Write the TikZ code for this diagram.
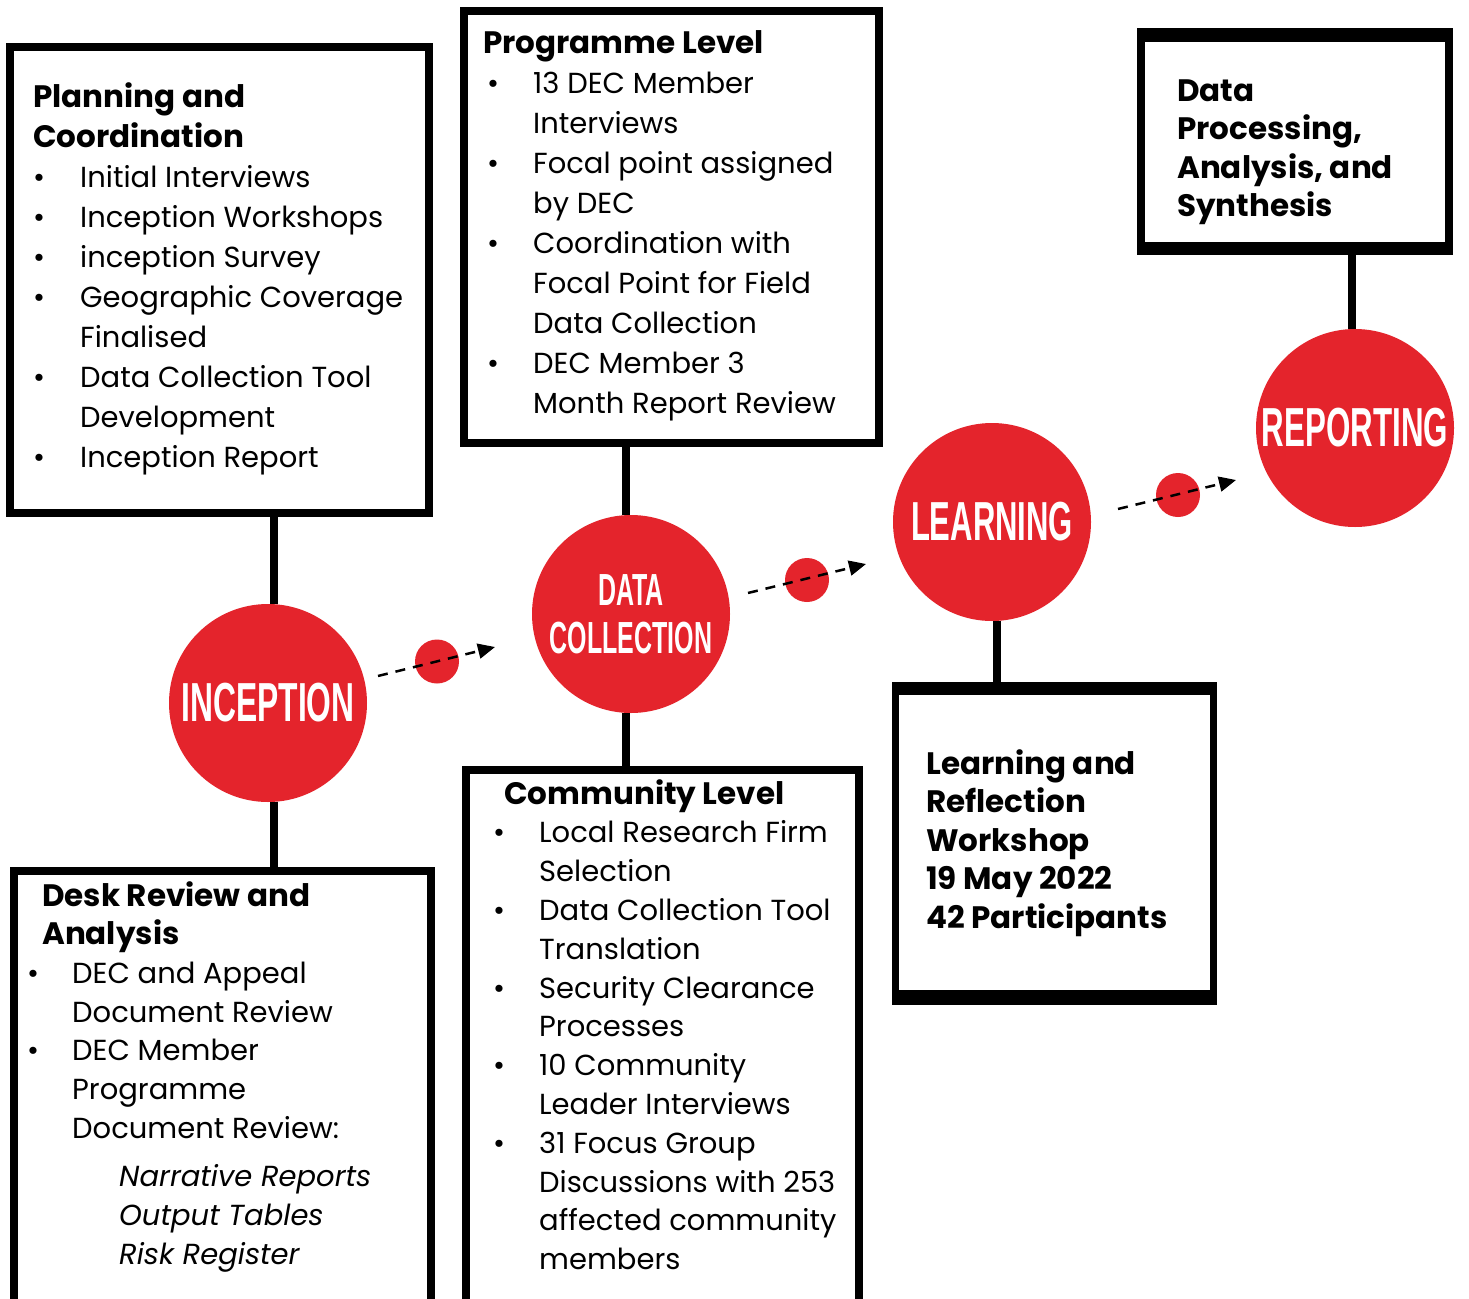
\documentclass[tikz,border=0pt]{standalone}
\usepackage{fontspec}
\setmainfont{Poppins}
\newfontfamily\circfont{Liberation Sans}
\usetikzlibrary{arrows.meta,calc}
\definecolor{decred}{RGB}{228,36,44}
\newcommand\hd[1]{\hbox{\bfseries\fontsize{31}{31}\selectfont #1}}
\newcommand\bl[3]{\hbox{\rlap{\kern#1pt\textbullet}\kern#2pt #3}}
\newcommand\cl[2]{\hbox{\kern#1pt #2}}
\newcommand\blk[2]{\vtop{\baselineskip=#1pt\lineskiplimit=-100pt\lineskip=0pt #2}}
\newcommand\cfit[2]{\scalebox{#1}[1]{#2}}
\tikzset{
  box/.style={draw=black, line width=8pt, fill=white, inner sep=0pt},
  txt/.style={anchor=base west, inner sep=0pt, font=\fontsize{29}{29}\selectfont},
  phase/.style={circle, fill=decred, inner sep=0pt, minimum size=198pt, text=white,
    font=\circfont\bfseries\fontsize{55}{55}\selectfont},
  dot/.style={circle, fill=decred, inner sep=0pt, minimum size=44pt},
  conn/.style={line width=8pt, black},
  flow/.style={line width=2.5pt, black, dash pattern=on 10pt off 8pt,
    -{Triangle[length=17pt,width=15pt]}}
}
\begin{document}
\begin{tikzpicture}[x=1pt,y=-1pt]
\useasboundingbox (0,0) rectangle (1469,1298);
\fill[white] (0,0) rectangle (1469,1298);

% boxes
\node[box, minimum width=419pt, minimum height=465pt] (plan) at (219,280) {};
\node[box, minimum width=415pt, minimum height=431pt] (prog) at (671.5,227) {};
\node[box, minimum width=308pt, minimum height=219pt] (dpas) at (1295,141.5) {};
\node[box, line width=7pt, minimum width=318pt, minimum height=316pt] (lrw) at (1054.5,843.5) {};
\node[box, minimum width=393pt, minimum height=540pt] (comm) at (662.5,1040) {};
\node[box, minimum width=417pt, minimum height=433pt] (desk) at (222.5,1087.5) {};

% thicker top/bottom edges
\fill (dpas.north west) rectangle ($(dpas.north east)+(0,14)$);
\fill ($(dpas.south west)+(0,-13)$) rectangle (dpas.south east);
\fill (lrw.north west) rectangle ($(lrw.north east)+(0,13)$);
\fill ($(lrw.south west)+(0,-15)$) rectangle (lrw.south east);

% box texts
\node[txt] (plantx) at (33,107) {\blk{40}{\hd{Planning and}\hd{Coordination}%
\bl{0}{47}{Initial Interviews}\bl{0}{47}{Inception Workshops}\bl{0}{47}{inception Survey}%
\bl{0}{47}{Geographic Coverage}\cl{47}{Finalised}\bl{0}{47}{Data Collection Tool}%
\cl{47}{Development}\bl{0}{47}{Inception Report}}};

\node[txt] (progtx) at (483,53) {\blk{40.1}{\hd{Programme Level}%
\bl{4}{50}{13 DEC Member}\cl{50}{Interviews}\bl{4}{50}{Focal point assigned}%
\cl{50}{by DEC}\bl{4}{50}{Coordination with}\cl{50}{Focal Point for Field}%
\cl{50}{Data Collection}\bl{4}{50}{DEC Member 3}\cl{50}{Month Report Review}}};

\node[txt] (dpastx) at (1177,101) {\blk{38.5}{\hd{Data}\hd{Processing,}\hd{Analysis, and}\hd{Synthesis}}};

\node[txt] (lrwtx) at (926,774) {\blk{38.5}{\hd{Learning and}\hd{Reflection}\hd{Workshop}\hd{19 May 2022}\hd{42 Participants}}};

\node[txt] (commtx) at (504,804) {\blk{38.8}{\hd{Community Level}%
\bl{-11}{35}{Local Research Firm}\cl{35}{Selection}\bl{-11}{35}{Data Collection Tool}%
\cl{35}{Translation}\bl{-11}{35}{Security Clearance}\cl{35}{Processes}%
\bl{-11}{35}{10 Community}\cl{35}{Leader Interviews}\bl{-11}{35}{31 Focus Group}%
\cl{35}{Discussions with 253}\cl{35}{affected community}\cl{35}{members}}};

\node[txt] (desktx) at (42,906) {\blk{38.7}{\hd{Desk Review and}\hd{Analysis}%
\bl{-15}{30}{DEC and Appeal}\cl{30}{Document Review}\bl{-15}{30}{DEC Member}%
\cl{30}{Programme}\cl{30}{Document Review:}\kern10pt%
\cl{77}{\itshape Narrative Reports}\cl{77}{\itshape Output Tables}\cl{77}{\itshape Risk Register}}};

% phase circles
\node[phase] (incep) at (268,703) {\cfit{0.578}{INCEPTION}};
\node[phase, align=center, font=\circfont\bfseries\fontsize{45}{48}\selectfont] (datac) at (631,614) {\cfit{0.555}{DATA}\\\cfit{0.555}{COLLECTION}};
\node[phase] (learn) at (992,522) {\raisebox{-4pt}{\cfit{0.564}{LEARNING}}};
\node[phase] (report) at (1355,428) {\raisebox{-3pt}{\cfit{0.569}{REPORTING}}};

% vertical connectors
\draw[conn] ([xshift=6pt]incep.north) -- ([xshift=6pt]incep.north |- plan.south);
\draw[conn] ([xshift=6pt]incep.south) -- ([xshift=6pt]incep.south |- desk.north);
\draw[conn] ([xshift=-5pt]datac.north) -- ([xshift=-5pt]datac.north |- prog.south);
\draw[conn] ([xshift=-5pt]datac.south) -- ([xshift=-5pt]datac.south |- comm.north);
\draw[conn] ([xshift=5pt]learn.south) -- ([xshift=5pt]learn.south |- lrw.north);
\draw[conn] ([xshift=-3pt]report.north) -- ([xshift=-3pt]report.north |- dpas.south);

% small dots and dashed arrows
\node[dot] (dot1) at (437,661.5) {};
\node[dot] (dot2) at (807,580) {};
\node[dot] (dot3) at (1178,495) {};
\coordinate (f1s) at (378,676); \coordinate (f1e) at (495,647);
\coordinate (f2s) at (748,593); \coordinate (f2e) at (866,564);
\coordinate (f3s) at (1118,509); \coordinate (f3e) at (1236,480);
\draw[flow] (f1s) -- (f1e);
\draw[flow] (f2s) -- (f2e);
\draw[flow] (f3s) -- (f3e);
\end{tikzpicture}
\end{document}
